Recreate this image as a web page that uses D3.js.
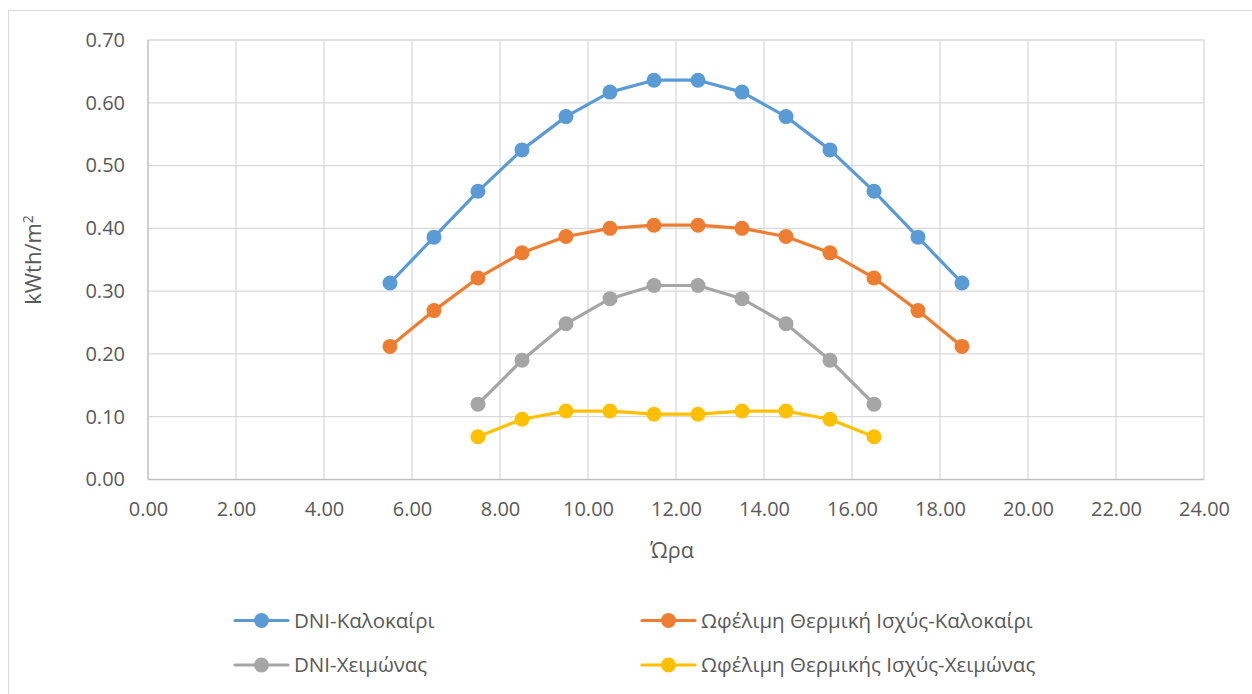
<!DOCTYPE html>
<html>
<head>
<meta charset="utf-8">
<script src="https://cdn.jsdelivr.net/npm/d3@7"></script>
<style>
  html, body { margin: 0; padding: 0; background: #fff; }
  svg { display: block; }
  text { font-family: "Open Sans", "Noto Sans", sans-serif; fill: #595959; }
</style>
</head>
<body>
<svg id="chart" width="1252" height="694"></svg>
<script>
// ---- data ----
const hoursSummer = [5.5, 6.5, 7.5, 8.5, 9.5, 10.5, 11.5, 12.5, 13.5, 14.5, 15.5, 16.5, 17.5, 18.5];
const dniSummer = [0.313, 0.386, 0.459, 0.525, 0.578, 0.617, 0.636, 0.636, 0.617, 0.578, 0.525, 0.459, 0.386, 0.313];
const thermalSummer = [0.212, 0.269, 0.321, 0.361, 0.387, 0.400, 0.405, 0.405, 0.400, 0.387, 0.361, 0.321, 0.269, 0.212];
const hoursWinter = [7.5, 8.5, 9.5, 10.5, 11.5, 12.5, 13.5, 14.5, 15.5, 16.5];
const dniWinter = [0.120, 0.190, 0.248, 0.288, 0.309, 0.309, 0.288, 0.248, 0.190, 0.120];
const thermalWinter = [0.068, 0.096, 0.109, 0.109, 0.104, 0.104, 0.109, 0.109, 0.096, 0.068];
const seriesNames = ["DNI-Καλοκαίρι", "Ωφέλιμη Θερμική Ισχύς-Καλοκαίρι", "DNI-Χειμώνας", "Ωφέλιμη Θερμικής Ισχύς-Χειμώνας"];
const seriesColors = ["#5B9BD5", "#ED7D31", "#A5A5A5", "#FFC000"];
const xTicks = [0, 2, 4, 6, 8, 10, 12, 14, 16, 18, 20, 22, 24];
const yTicks = [0, 0.1, 0.2, 0.3, 0.4, 0.5, 0.6, 0.7];
const xTitle = "Ώρα";
const yTitle = "kWth/m";

(function () {
const series = [
  { name: seriesNames[0], color: seriesColors[0], xs: hoursSummer, ys: dniSummer },
  { name: seriesNames[1], color: seriesColors[1], xs: hoursSummer, ys: thermalSummer },
  { name: seriesNames[2], color: seriesColors[2], xs: hoursWinter, ys: dniWinter },
  { name: seriesNames[3], color: seriesColors[3], xs: hoursWinter, ys: thermalWinter }
];

const svg = d3.select("#chart");

// outer chart border
svg.append("rect").attr("x", 8.5).attr("y", 10.5).attr("width", 1260).attr("height", 700)
  .attr("fill", "#fff").attr("stroke", "#D9D9D9").attr("stroke-width", 1);

const pL = 148, pR = 1204, pT = 40, pB = 479.5;
const x = d3.scaleLinear().domain([0, 24]).range([pL, pR]);
const y = d3.scaleLinear().domain([0, 0.7]).range([pB, pT]);

// grid
svg.append("g").selectAll("line").data(xTicks.slice(1)).join("line")
  .attr("x1", d => x(d)).attr("x2", d => x(d)).attr("y1", pT).attr("y2", pB)
  .attr("stroke", "#D9D9D9").attr("stroke-width", 1.3);
svg.append("g").selectAll("line").data(yTicks.slice(1)).join("line")
  .attr("x1", pL).attr("x2", pR).attr("y1", d => y(d)).attr("y2", d => y(d))
  .attr("stroke", "#D9D9D9").attr("stroke-width", 1.3);

// axes lines
svg.append("line").attr("x1", pL).attr("x2", pR).attr("y1", pB).attr("y2", pB)
  .attr("stroke", "#BFBFBF").attr("stroke-width", 1.5);
svg.append("line").attr("x1", pL).attr("x2", pL).attr("y1", pT).attr("y2", pB)
  .attr("stroke", "#BFBFBF").attr("stroke-width", 1.5);

// axes labels via d3 axes
const xAxis = d3.axisBottom(x).tickValues(xTicks).tickFormat(d3.format(".2f")).tickSize(0).tickPadding(22);
const gx = svg.append("g").attr("transform", `translate(0,${pB})`).call(xAxis);
gx.select(".domain").remove();
gx.selectAll("text").attr("font-size", 20).attr("font-family", null).attr("fill", "#595959");

const yAxis = d3.axisLeft(y).tickValues(yTicks).tickFormat(d3.format(".2f")).tickSize(0).tickPadding(23);
const gy = svg.append("g").attr("transform", `translate(${pL},0)`).call(yAxis);
gy.select(".domain").remove();
gy.selectAll("text").attr("font-size", 20).attr("font-family", null).attr("fill", "#595959");

// axis titles
svg.append("text").attr("x", 672).attr("y", 558).attr("text-anchor", "middle")
  .attr("font-size", 21.5).text(xTitle);
const yt = svg.append("text").attr("transform", "translate(41,260) rotate(-90)")
  .attr("text-anchor", "middle").attr("font-size", 22);
yt.append("tspan").text(yTitle);
yt.append("tspan").attr("font-size", 14).attr("dy", -8).text("2");

// series
const line = d3.line().x(d => x(d[0])).y(d => y(d[1]));
series.forEach(s => {
  const pts = s.xs.map((v, i) => [v, s.ys[i]]);
  svg.append("path").datum(pts).attr("d", line).attr("fill", "none")
    .attr("stroke", s.color).attr("stroke-width", 3.2).attr("stroke-linejoin", "round");
  svg.append("g").selectAll("circle").data(pts).join("circle")
    .attr("cx", d => x(d[0])).attr("cy", d => y(d[1])).attr("r", 7.5).attr("fill", s.color);
});

// legend
const legendPos = [[235, 620.5], [642, 620.5], [235, 665], [642, 665]];
series.forEach((s, i) => {
  const [lx, ly] = legendPos[i];
  const g = svg.append("g");
  g.append("line").attr("x1", lx).attr("x2", lx + 53).attr("y1", ly).attr("y2", ly)
    .attr("stroke", s.color).attr("stroke-width", 3.2).attr("stroke-linecap", "round");
  g.append("circle").attr("cx", lx + 26.5).attr("cy", ly).attr("r", 7.5).attr("fill", s.color);
  g.append("text").attr("x", lx + 59).attr("y", ly + 7).attr("font-size", 20.5).text(s.name);
});
})();
</script>
</body>
</html>
